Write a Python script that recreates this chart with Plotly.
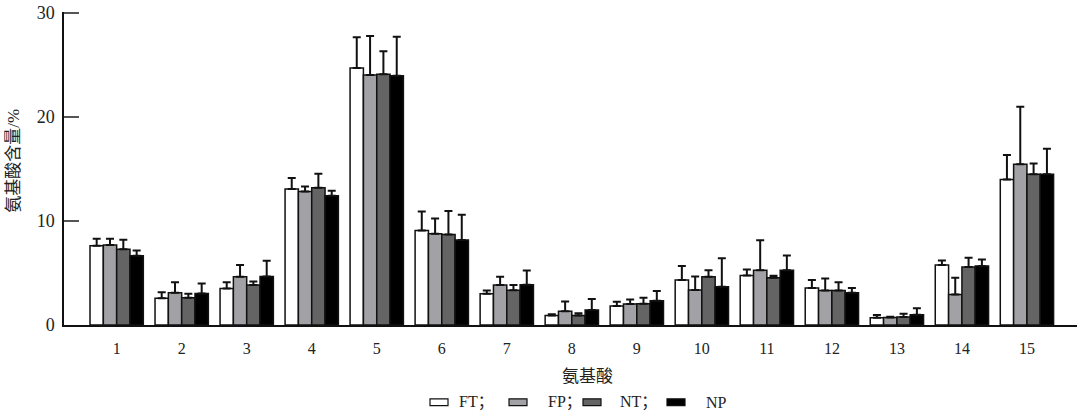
import plotly.graph_objects as go

categories = [str(i) for i in range(1, 16)]
series_names = ["FT", "FP", "NT", "NP"]

ft = [7.63, 2.58, 3.50, 13.09, 24.72, 9.08, 3.00, 0.91, 1.83, 4.32, 4.76, 3.57, 0.69, 5.77, 14.00]
ft_err = [0.67, 0.57, 0.60, 1.04, 2.94, 1.83, 0.31, 0.13, 0.41, 1.36, 0.57, 0.75, 0.26, 0.44, 2.34]
fp = [7.70, 3.09, 4.64, 12.84, 24.03, 8.77, 3.85, 1.32, 2.02, 3.37, 5.27, 3.31, 0.73, 2.93, 15.45]
fp_err = [0.60, 1.01, 1.13, 0.47, 3.75, 1.48, 0.79, 0.95, 0.44, 1.30, 2.87, 1.17, 0.07, 1.61, 5.55]
nt = [7.28, 2.62, 3.85, 13.21, 24.12, 8.70, 3.34, 0.91, 2.05, 4.64, 4.54, 3.31, 0.76, 5.58, 14.50]
nt_err = [0.92, 0.38, 0.34, 1.33, 2.21, 2.27, 0.51, 0.22, 0.57, 0.63, 0.19, 0.79, 0.31, 0.88, 1.04]
np_ = [6.65, 3.03, 4.67, 12.42, 23.97, 8.17, 3.88, 1.45, 2.33, 3.69, 5.27, 3.09, 0.98, 5.68, 14.50]
np_err = [0.51, 0.97, 1.51, 0.48, 3.75, 2.43, 1.35, 1.04, 0.95, 2.74, 1.42, 0.48, 0.63, 0.63, 2.46]

y_ticks = [0, 10, 20, 30]
x_title = "氨基酸"
y_title = "氨基酸含量/%"
legend_labels = ["FT；", "FP；", "NT；", "NP"]

values = [ft, fp, nt, np_]
errors = [ft_err, fp_err, nt_err, np_err]
colors = ["#ffffff", "#a2a2a6", "#646464", "#000000"]

FONT = "Liberation Serif, Times New Roman, Noto Sans CJK SC, serif"

W, H = 1080, 413
L, R, T, B = 64, 3, 7, 88
pw, ph = W - L - R, H - T - B


def px(x):
    return (x - L) / pw


def py(y):
    return (H - B - y) / ph


fig = go.Figure()
for name, vals, errs, col in zip(series_names, values, errors, colors):
    fig.add_trace(go.Bar(
        x=categories, y=vals, name=name,
        marker=dict(color=col, line=dict(color="#111111", width=1.5)),
        error_y=dict(type="data", symmetric=False, array=errs,
                     arrayminus=[0] * len(errs), color="#111111",
                     thickness=2, width=4),
        showlegend=False,
    ))

fig.update_layout(
    width=W, height=H,
    margin=dict(l=L, r=R, t=T, b=B),
    plot_bgcolor="white", paper_bgcolor="white",
    barmode="group", bargap=0.18, bargroupgap=0,
    font=dict(family=FONT, color="#222222"),
)
fig.update_xaxes(
    range=[-0.81, 14.77], showline=True, linecolor="#111111", linewidth=1.5,
    ticks="", showgrid=False, zeroline=False,
    tickfont=dict(size=16, family=FONT, color="#222222"),
    ticklabelstandoff=8,
)
fig.update_yaxes(
    range=[0, 30.1], tickvals=y_ticks, ticktext=[str(v) for v in y_ticks],
    showline=True, linecolor="#111111", linewidth=1.5,
    ticks="inside", ticklen=15, tickwidth=2, tickcolor="#555555",
    showgrid=False, zeroline=False,
    tickfont=dict(size=18, family=FONT, color="#222222"),
    ticklabelstandoff=4, ticklabeloverflow="allow",
)

annotations = [
    dict(text=y_title, x=px(14), y=py(158), xref="paper", yref="paper",
         textangle=-90, showarrow=False, xanchor="center", yanchor="middle",
         font=dict(size=17, family=FONT, color="#222222")),
    dict(text=x_title, x=px(587), y=py(377), xref="paper", yref="paper",
         showarrow=False, xanchor="center", yanchor="middle",
         font=dict(size=17, family=FONT, color="#222222")),
]
shapes = []
box_x = [430, 509, 583, 667]
txt_x = [457, 546, 618, 704]
for lab, col, bx, tx in zip(legend_labels, colors, box_x, txt_x):
    shapes.append(dict(type="rect", xref="paper", yref="paper",
                       x0=px(bx), x1=px(bx + 18), y0=py(400), y1=py(407),
                       fillcolor=col, line=dict(color="#111111", width=1.2)))
    annotations.append(dict(text=lab, x=px(tx), y=py(403.5), xref="paper", yref="paper",
                            showarrow=False, xanchor="left", yanchor="middle",
                            font=dict(size=16, family=FONT, color="#222222")))
fig.update_layout(annotations=annotations, shapes=shapes)

fig.write_html("out.html")
